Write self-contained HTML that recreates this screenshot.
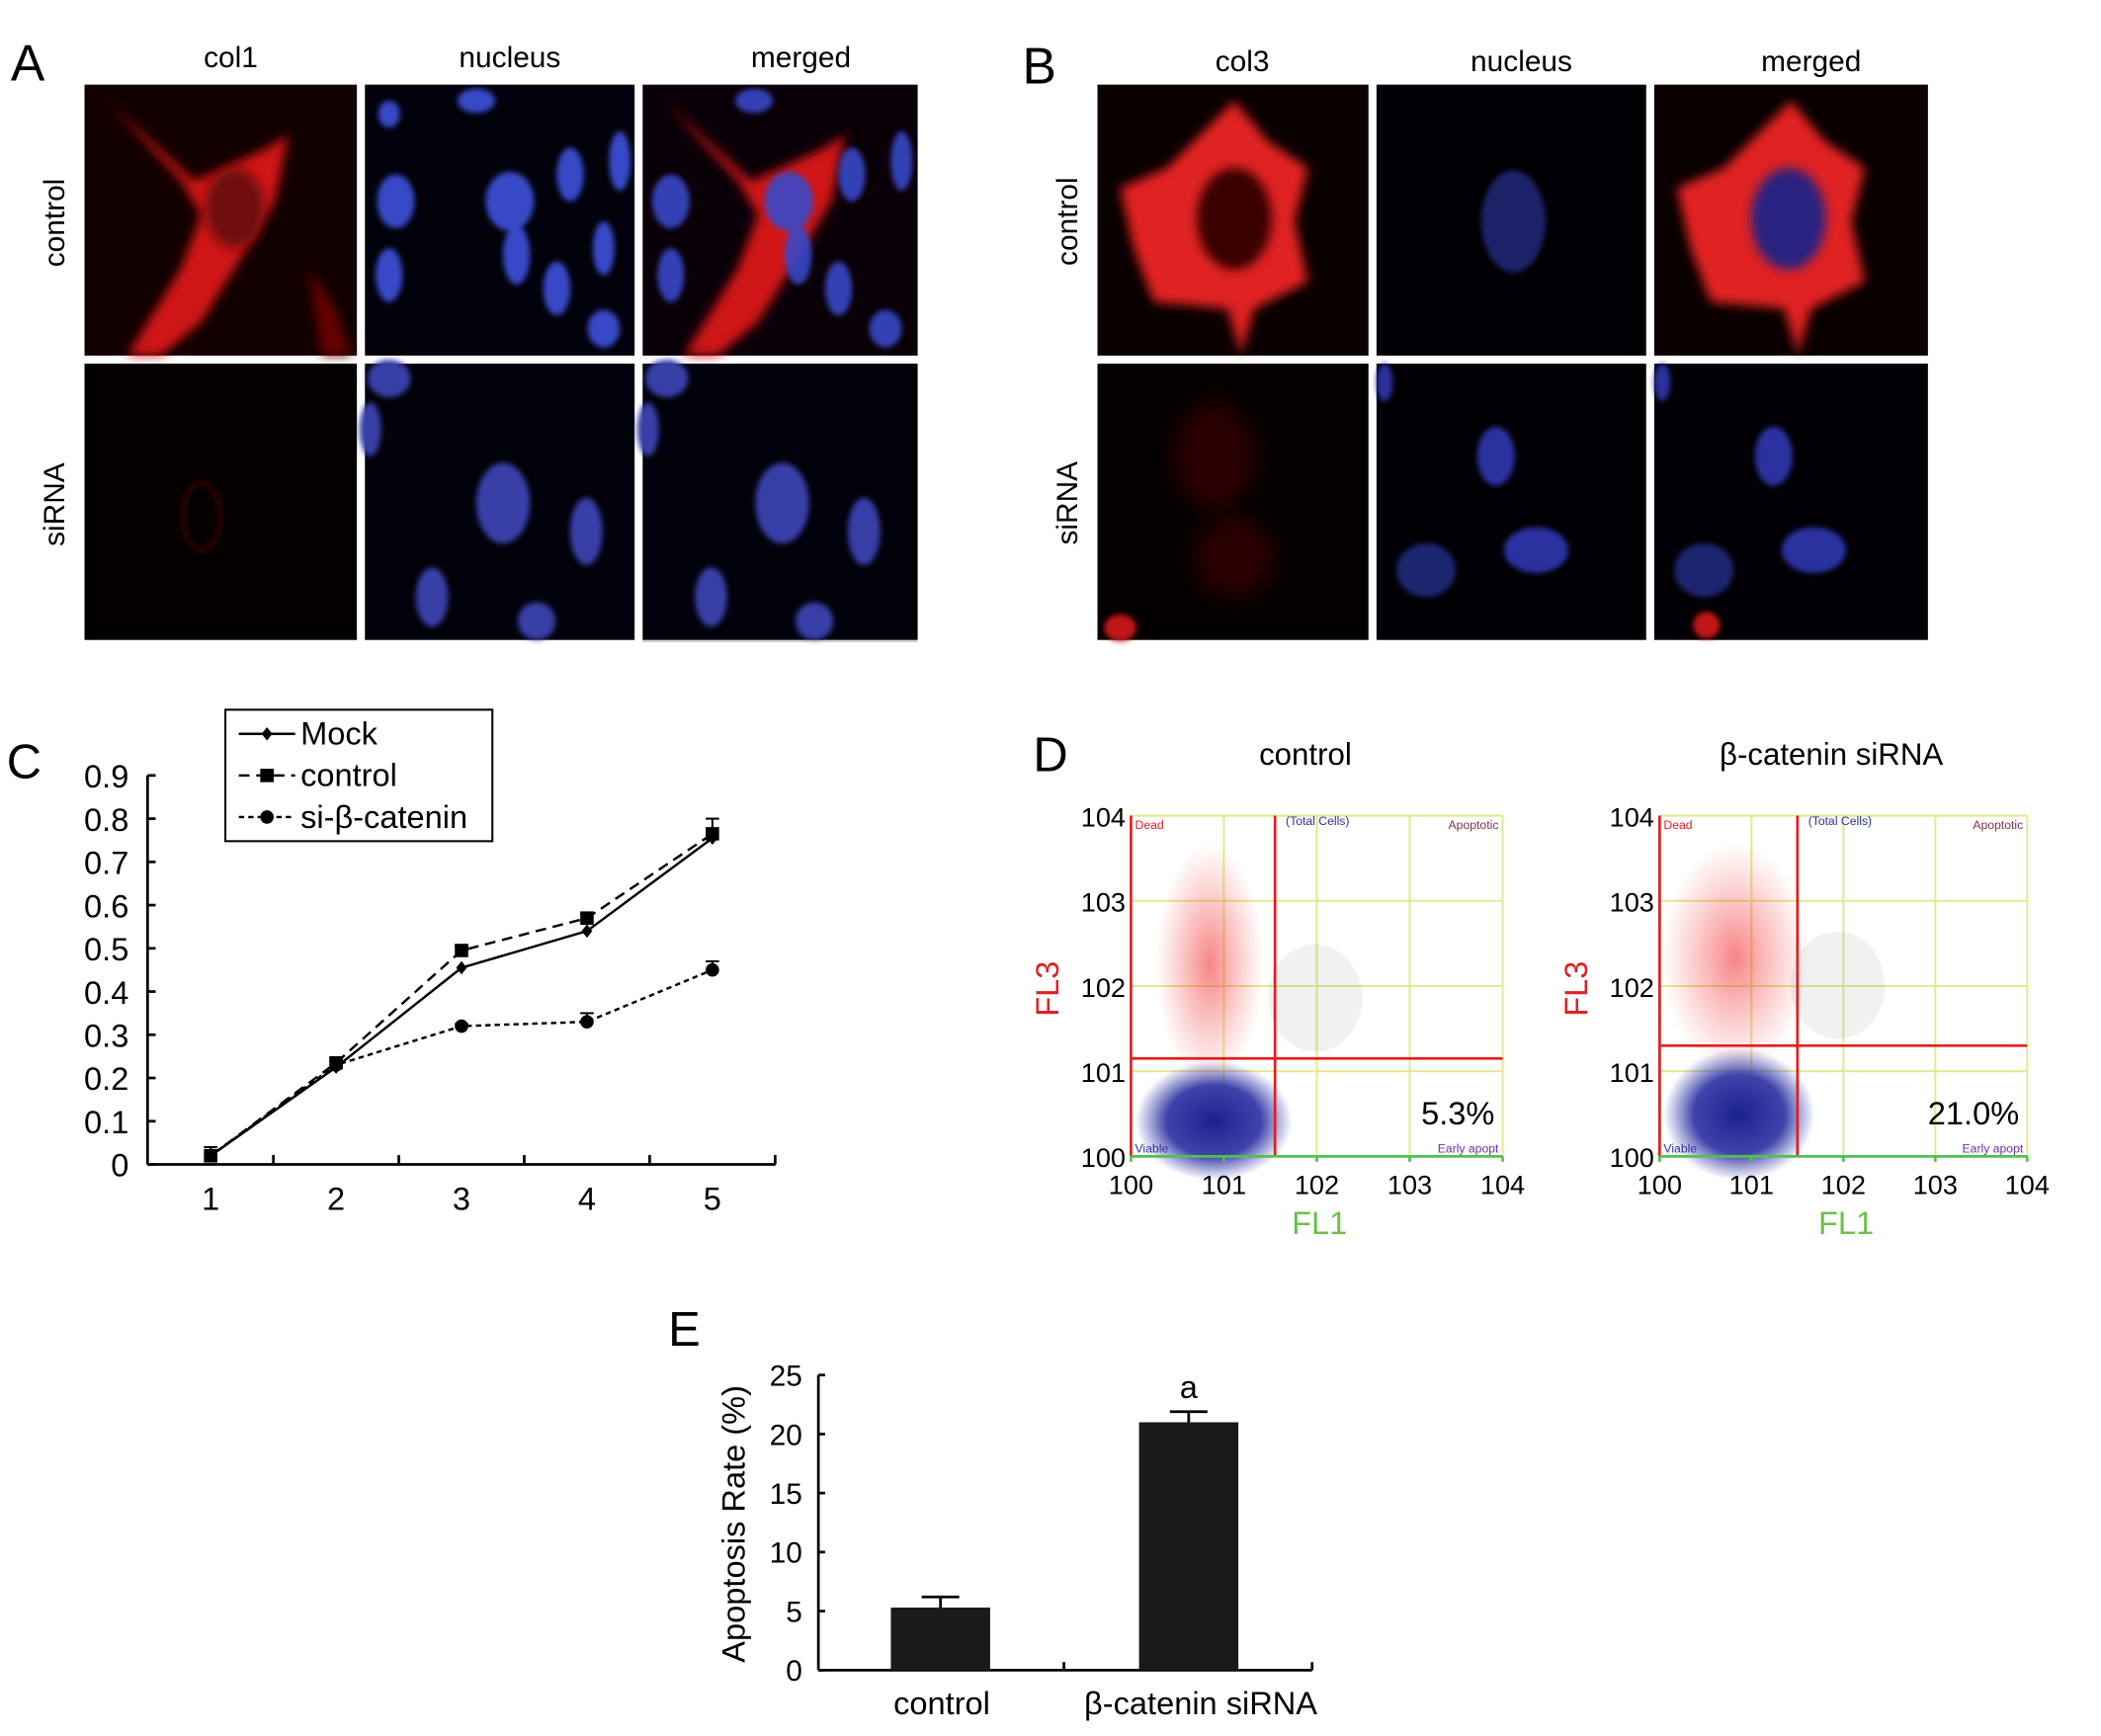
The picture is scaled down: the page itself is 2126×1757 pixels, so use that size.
<!DOCTYPE html>
<html><head><meta charset="utf-8">
<style>
html,body{margin:0;padding:0;background:#fff;}
svg{display:block;font-family:"Liberation Sans",sans-serif;}
</style></head>
<body>
<svg id="fig" width="2126" height="1757" viewBox="0 0 1566 1294" xmlns="http://www.w3.org/2000/svg">
<defs>
<filter id="b2" x="-30%" y="-30%" width="160%" height="160%"><feGaussianBlur stdDeviation="2"/></filter>
<filter id="b4" x="-30%" y="-30%" width="160%" height="160%"><feGaussianBlur stdDeviation="4"/></filter>
<filter id="b8" x="-50%" y="-50%" width="200%" height="200%"><feGaussianBlur stdDeviation="8"/></filter>
<radialGradient id="blueCloud"><stop offset="0" stop-color="#1a2090"/><stop offset="0.6" stop-color="#2a2fa0" stop-opacity="0.9"/><stop offset="1" stop-color="#3a40b0" stop-opacity="0"/></radialGradient>
<radialGradient id="redCloud"><stop offset="0" stop-color="#f02020" stop-opacity="0.55"/><stop offset="1" stop-color="#f04040" stop-opacity="0"/></radialGradient>
</defs>

<!-- Panel A -->
<g>
<text x="8" y="60" font-size="38">A</text>
<text x="172" y="50" font-size="22" text-anchor="middle">col1</text>
<text x="380" y="50" font-size="22" text-anchor="middle">nucleus</text>
<text x="597" y="50" font-size="22" text-anchor="middle">merged</text>
<text transform="translate(48,166) rotate(-90)" font-size="22" text-anchor="middle">control</text>
<text transform="translate(48,376) rotate(-90)" font-size="22" text-anchor="middle">siRNA</text>

<g>
<rect x="63" y="63" width="203" height="202" fill="#120000"/>
<path d="M80,75 L145,135 L200,110 L215,100 L205,150 L175,200 L150,240 L120,265 L95,265 L135,200 L150,160 L135,135 Z" fill="#d01818" filter="url(#b4)"/>
<ellipse cx="175" cy="155" rx="22" ry="30" fill="#701010" filter="url(#b4)"/>
<path d="M230,200 L250,230 L262,265 L240,265 Z" fill="#600" filter="url(#b4)"/>
</g>
<g>
<rect x="272" y="63" width="201" height="202" fill="#02020c"/>
<g fill="#3848c8" filter="url(#b2)">
<ellipse cx="355" cy="75" rx="14" ry="9"/><ellipse cx="290" cy="85" rx="8" ry="10"/>
<ellipse cx="295" cy="150" rx="14" ry="20"/><ellipse cx="380" cy="150" rx="18" ry="22"/>
<ellipse cx="425" cy="130" rx="10" ry="20"/><ellipse cx="462" cy="120" rx="8" ry="22"/>
<ellipse cx="290" cy="205" rx="10" ry="20"/><ellipse cx="385" cy="190" rx="10" ry="22"/>
<ellipse cx="415" cy="215" rx="10" ry="20"/><ellipse cx="450" cy="185" rx="8" ry="20"/>
<ellipse cx="450" cy="245" rx="12" ry="14"/>
</g></g>
<g>
<rect x="479" y="63" width="205" height="202" fill="#0a0008"/>
<path d="M495,75 L560,135 L615,110 L630,100 L620,150 L590,200 L565,240 L535,265 L510,265 L550,200 L565,160 L550,135 Z" fill="#d01818" filter="url(#b4)"/>
<g fill="#3848c8" filter="url(#b2)" opacity="0.9">
<ellipse cx="562" cy="75" rx="14" ry="9"/><ellipse cx="500" cy="150" rx="14" ry="20"/>
<ellipse cx="588" cy="150" rx="18" ry="22"/><ellipse cx="635" cy="130" rx="10" ry="20"/>
<ellipse cx="672" cy="120" rx="8" ry="22"/><ellipse cx="500" cy="205" rx="10" ry="20"/>
<ellipse cx="595" cy="190" rx="10" ry="22"/><ellipse cx="625" cy="215" rx="10" ry="20"/>
<ellipse cx="660" cy="245" rx="12" ry="14"/></g></g>

<g>
<rect x="63" y="271" width="203" height="206" fill="#050000"/>
<ellipse cx="150" cy="385" rx="14" ry="25" fill="none" stroke="#501010" stroke-width="2" filter="url(#b2)"/>
</g>
<g>
<rect x="272" y="271" width="201" height="206" fill="#02020c"/>
<g fill="#3840a8" filter="url(#b2)">
<ellipse cx="290" cy="282" rx="16" ry="14"/><ellipse cx="276" cy="320" rx="8" ry="20"/>
<ellipse cx="375" cy="375" rx="20" ry="30"/><ellipse cx="437" cy="396" rx="12" ry="25"/>
<ellipse cx="322" cy="445" rx="12" ry="22"/><ellipse cx="400" cy="463" rx="14" ry="14"/>
</g></g>
<g>
<rect x="479" y="271" width="205" height="206" fill="#02020c"/>
<g fill="#3840a8" filter="url(#b2)">
<ellipse cx="497" cy="282" rx="16" ry="14"/><ellipse cx="483" cy="320" rx="8" ry="20"/>
<ellipse cx="583" cy="375" rx="20" ry="30"/><ellipse cx="644" cy="396" rx="12" ry="25"/>
<ellipse cx="530" cy="445" rx="12" ry="22"/><ellipse cx="607" cy="463" rx="14" ry="14"/>
</g></g>
<line x1="479" y1="478" x2="684" y2="478" stroke="#bbb" stroke-width="1"/>
</g>

<!-- Panel B -->
<g>
<text x="762" y="62" font-size="38">B</text>
<text x="926" y="53" font-size="22" text-anchor="middle">col3</text>
<text x="1134" y="53" font-size="22" text-anchor="middle">nucleus</text>
<text x="1350" y="53" font-size="22" text-anchor="middle">merged</text>
<text transform="translate(803,165) rotate(-90)" font-size="22" text-anchor="middle">control</text>
<text transform="translate(803,375) rotate(-90)" font-size="22" text-anchor="middle">siRNA</text>

<g>
<rect x="818" y="63" width="202" height="202" fill="#0a0000"/>
<path d="M920,75 L945,105 L975,125 L965,165 L975,210 L935,230 L925,265 L915,230 L860,225 L845,185 L835,140 L870,125 Z" fill="#e02222" filter="url(#b4)"/>
<ellipse cx="920" cy="163" rx="28" ry="38" fill="#3a0505" filter="url(#b4)"/>
</g>
<g>
<rect x="1026" y="63" width="201" height="202" fill="#000004"/>
<ellipse cx="1128" cy="165" rx="24" ry="38" fill="#1e2268" filter="url(#b2)"/>
</g>
<g>
<rect x="1233" y="63" width="204" height="202" fill="#0a0000"/>
<path d="M1335,75 L1360,105 L1390,125 L1380,165 L1390,210 L1350,230 L1340,265 L1330,230 L1275,225 L1260,185 L1250,140 L1285,125 Z" fill="#e02222" filter="url(#b4)"/>
<ellipse cx="1333" cy="163" rx="28" ry="38" fill="#2a2080" filter="url(#b4)"/>
</g>
<g>
<rect x="818" y="271" width="202" height="206" fill="#050000"/>
<ellipse cx="905" cy="340" rx="30" ry="40" fill="#2a0505" filter="url(#b8)"/>
<ellipse cx="920" cy="415" rx="30" ry="30" fill="#2a0505" filter="url(#b8)"/>
<ellipse cx="835" cy="468" rx="12" ry="10" fill="#c01818" filter="url(#b2)"/>
</g>
<g>
<rect x="1026" y="271" width="201" height="206" fill="#000004"/>
<g fill="#2a33a0" filter="url(#b2)">
<ellipse cx="1115" cy="340" rx="14" ry="22"/><ellipse cx="1063" cy="425" rx="22" ry="20" fill="#1e2670"/>
<ellipse cx="1145" cy="410" rx="24" ry="17"/><ellipse cx="1032" cy="285" rx="6" ry="14"/>
</g></g>
<g>
<rect x="1233" y="271" width="204" height="206" fill="#020004"/>
<g fill="#2a33a0" filter="url(#b2)">
<ellipse cx="1322" cy="340" rx="14" ry="22"/><ellipse cx="1270" cy="425" rx="22" ry="20" fill="#1e2670"/>
<ellipse cx="1352" cy="410" rx="24" ry="17"/><ellipse cx="1239" cy="285" rx="6" ry="14"/>
</g>
<ellipse cx="1272" cy="466" rx="10" ry="10" fill="#c01818" filter="url(#b2)"/>
</g>
</g>

<!-- Panel C -->
<g id="panelC">
<text x="5" y="580" font-size="36">C</text>
</g>
<!-- Panel D -->
<g id="panelD">
<text x="770" y="575" font-size="36">D</text>
</g>
<!-- Panel E -->
<g id="panelE">
<text x="498" y="1003" font-size="36">E</text>
</g>
</svg>

<script>
// ---------- Panel C data ----------
const cDays = [1, 2, 3, 4, 5];
const cMock = [0.02, 0.225, 0.455, 0.54, 0.755];
const cControl = [0.02, 0.235, 0.495, 0.57, 0.765];
const cSi = [0.02, 0.23, 0.32, 0.33, 0.45];
const cControlErr = [0.02, 0.01, 0.01, 0.01, 0.035];
const cSiErr = [0.02, 0.01, 0.005, 0.02, 0.02];
const cYTicks = [0, 0.1, 0.2, 0.3, 0.4, 0.5, 0.6, 0.7, 0.8, 0.9];
const cYTickLabels = ["0", "0.1", "0.2", "0.3", "0.4", "0.5", "0.6", "0.7", "0.8", "0.9"];
const cXTickLabels = ["1", "2", "3", "4", "5"];
const cLegendLabels = ["Mock", "control", "si-β-catenin"];

// ---------- Panel D data ----------
const dTickLabels = ["100", "101", "102", "103", "104"];
const dTitles = ["control", "β-catenin siRNA"];
const dPercent = ["5.3%", "21.0%"];
const dGateX = [1.55, 1.5];
const dGateY = [1.15, 1.3];

// ---------- Panel E data ----------
const eCategories = ["control", "β-catenin siRNA"];
const eValues = [5.3, 21.0];
const eErrors = [0.9, 0.9];
const eYTicks = [0, 5, 10, 15, 20, 25];
const eYTickLabels = ["0", "5", "10", "15", "20", "25"];

const NS = "http://www.w3.org/2000/svg";
function mk(tag, attrs, parent) {
  const e = document.createElementNS(NS, tag);
  for (const k in attrs) e.setAttribute(k, attrs[k]);
  parent.appendChild(e);
  return e;
}

// ===== Panel C =====
(function () {
  const g = document.getElementById('panelC');
  const x0 = 110, x1 = 578, yb = 868, yt = 578;
  const sx = d => 157 + (d - 1) * 93.5;
  const sy = v => yb - (v / 0.9) * (yb - yt);
  let e = mk('line', { x1: x0, y1: yt, x2: x0, y2: yb, stroke: '#000', 'stroke-width': 2 }, g);
  
  
  e = mk('line', { x1: x0, y1: yb, x2: x1, y2: yb, stroke: '#000', 'stroke-width': 2 }, g);
  
  
  cYTicks.forEach((t, i) => {
    const y = sy(t);
    mk('line', { x1: x0, y1: y, x2: x0 + 6, y2: y, stroke: '#000', 'stroke-width': 2 }, g);
    const tx = mk('text', { x: x0 - 14, y: y + 9, 'font-size': 24, 'text-anchor': 'end' }, g);
    tx.textContent = cYTickLabels[i];
    
    
  });
  for (let i = 0; i < cDays.length; i++) {
    const xm = sx(cDays[i]) + 46.75;
    mk('line', { x1: xm, y1: yb, x2: xm, y2: yb - 7, stroke: '#000', 'stroke-width': 2 }, g);
    const tx = mk('text', { x: sx(cDays[i]), y: yb + 34, 'font-size': 24, 'text-anchor': 'middle' }, g);
    tx.textContent = cXTickLabels[i];
    
    
  }
  function series(vals, errs, dash, marker, name) {
    const pts = vals.map((v, i) => sx(cDays[i]) + ',' + sy(v)).join(' ');
    const pl = mk('polyline', { points: pts, fill: 'none', stroke: '#000', 'stroke-width': 1.8, 'stroke-dasharray': dash }, g);
    
    
    vals.forEach((v, i) => {
      const x = sx(cDays[i]), y = sy(v);
      if (errs) {
        const ye = sy(v + errs[i]);
        mk('line', { x1: x, y1: y, x2: x, y2: ye, stroke: '#000', 'stroke-width': 1.5 }, g);
        mk('line', { x1: x - 5, y1: ye, x2: x + 5, y2: ye, stroke: '#000', 'stroke-width': 1.5 }, g);
      }
      let m;
      if (marker === 'diamond') m = mk('path', { d: `M${x},${y - 5}L${x + 4},${y}L${x},${y + 5}L${x - 4},${y}Z`, fill: '#000' }, g);
      else if (marker === 'square') m = mk('rect', { x: x - 5, y: y - 5, width: 10, height: 10, fill: '#000' }, g);
      else m = mk('circle', { cx: x, cy: y, r: 5, fill: '#000' }, g);
      
      
    });
  }
  series(cMock, null, 'none', 'diamond', 'mock');
  series(cControl, cControlErr, '8,5', 'square', 'control');
  series(cSi, cSiErr, '4,3', 'circle', 'si-beta-catenin');
  const lg = mk('g', {}, g);
  
  
  mk('rect', { x: 168, y: 529, width: 199, height: 98, fill: '#fff', stroke: '#000', 'stroke-width': 1.5 }, lg);
  const dashes = ['none', '8,5', '4,3'];
  const marks = ['diamond', 'square', 'circle'];
  cLegendLabels.forEach((lab, i) => {
    const y = 547 + i * 31;
    mk('line', { x1: 178, y1: y, x2: 220, y2: y, stroke: '#000', 'stroke-width': 1.8, 'stroke-dasharray': dashes[i] }, lg);
    const x = 199;
    if (marks[i] === 'diamond') mk('path', { d: `M${x},${y - 5}L${x + 4},${y}L${x},${y + 5}L${x - 4},${y}Z`, fill: '#000' }, lg);
    else if (marks[i] === 'square') mk('rect', { x: x - 5, y: y - 5, width: 10, height: 10, fill: '#000' }, lg);
    else mk('circle', { cx: x, cy: y, r: 5, fill: '#000' }, lg);
    const t = mk('text', { x: 224, y: y + 8, 'font-size': 24 }, lg);
    t.textContent = lab;
    
    
  });
})();

// ===== Panel D =====
(function () {
  const g = document.getElementById('panelD');
  const plots = [{ x0: 843, x1: 1120, titleX: 973 }, { x0: 1237, x1: 1511, titleX: 1365 }];
  const yt = 608, yb = 862;
  plots.forEach((p, k) => {
    const pg = mk('g', {}, g);
    
    
    const sx = d => p.x0 + d / 4 * (p.x1 - p.x0);
    const sy = d => yb - d / 4 * (yb - yt);
    const t = mk('text', { x: p.titleX, y: 570, 'font-size': 23, 'text-anchor': 'middle' }, pg);
    t.textContent = dTitles[k];
    
    
    for (let d = 0; d <= 4; d++) {
      mk('line', { x1: sx(d), y1: yt, x2: sx(d), y2: yb, stroke: '#e4e890', 'stroke-width': 1.5 }, pg);
      mk('line', { x1: p.x0, y1: sy(d), x2: p.x1, y2: sy(d), stroke: '#e4e890', 'stroke-width': 1.5 }, pg);
    }
    const gx = sx(dGateX[k]), gy = sy(dGateY[k]);
    const cl = mk('g', {}, pg);
    
    
    const rw = k === 0 ? 40 : 55;
    mk('ellipse', { cx: (p.x0 + gx) / 2 + 8, cy: (gy + yb) / 2 + 10, rx: (gx - p.x0) / 2 + 5, ry: (yb - gy) / 2 + 8, fill: 'url(#blueCloud)' }, cl);
    mk('ellipse', { cx: (p.x0 + gx) / 2 + 5, cy: (yt + gy) / 2 + 20, rx: rw, ry: (gy - yt) / 2, fill: 'url(#redCloud)' }, cl);
    mk('ellipse', { cx: gx + 30, cy: gy - 45, rx: 35, ry: 40, fill: '#888', opacity: 0.12 }, cl);
    mk('line', { x1: gx, y1: yt, x2: gx, y2: yb, stroke: '#e02020', 'stroke-width': 2 }, pg);
    mk('line', { x1: p.x0, y1: gy, x2: p.x1, y2: gy, stroke: '#e02020', 'stroke-width': 2 }, pg);
    mk('line', { x1: p.x0, y1: yt, x2: p.x0, y2: yb, stroke: '#e02020', 'stroke-width': 2 }, pg);
    mk('line', { x1: p.x0, y1: yb, x2: p.x1, y2: yb, stroke: '#50c050', 'stroke-width': 2 }, pg);
    [['Dead', p.x0 + 3, yt + 10, '#e02020', 'start'], ['(Total Cells)', gx + 8, yt + 7, '#3030a0', 'start'],
     ['Apoptotic', p.x1 - 3, yt + 10, '#803050', 'end'], ['Early apopt', p.x1 - 3, yb - 3, '#7030a0', 'end'],
     ['Viable', p.x0 + 3, yb - 3, '#3030a0', 'start']].forEach(q => {
      const tq = mk('text', { x: q[1], y: q[2], 'font-size': 9, fill: q[3], 'text-anchor': q[4] }, pg);
      tq.textContent = q[0];
    });
    const pc = mk('text', { x: p.x1 - 6, y: 838, 'font-size': 24, 'text-anchor': 'end' }, pg);
    pc.textContent = dPercent[k];
    
    
    dTickLabels.forEach((lab, i) => {
      const ty = mk('text', { x: p.x0 - 4, y: sy(i) + 8, 'font-size': 20, 'text-anchor': 'end' }, pg);
      ty.textContent = lab;
      
      
      const tx = mk('text', { x: sx(i), y: yb + 28, 'font-size': 20, 'text-anchor': 'middle' }, pg);
      tx.textContent = lab;
      
      
      mk('line', { x1: sx(i), y1: yb, x2: sx(i), y2: yb + 4, stroke: '#50c050', 'stroke-width': 2 }, pg);
    });
    const fl1 = mk('text', { x: (p.x0 + p.x1) / 2 + 2, y: 920, 'font-size': 24, fill: '#6cc04a', 'text-anchor': 'middle' }, pg);
    fl1.textContent = 'FL1';
    
    
    const fl3 = mk('text', { transform: `translate(${p.x0 - 54},737) rotate(-90)`, 'font-size': 24, fill: '#e02020', 'text-anchor': 'middle' }, pg);
    fl3.textContent = 'FL3';
    
    
  });
})();

// ===== Panel E =====
(function () {
  const g = document.getElementById('panelE');
  const x0 = 610, x1 = 978, yb = 1245, yt = 1025;
  const sy = v => yb - v / 25 * (yb - yt);
  const barX = [664, 849], bw = 74;
  let e = mk('line', { x1: x0, y1: yt, x2: x0, y2: yb, stroke: '#000', 'stroke-width': 2 }, g);
  
  
  e = mk('line', { x1: x0, y1: yb, x2: x1, y2: yb, stroke: '#000', 'stroke-width': 2 }, g);
  
  
  mk('line', { x1: 793, y1: yb, x2: 793, y2: yb - 6, stroke: '#000', 'stroke-width': 2 }, g);
  mk('line', { x1: x1, y1: yb, x2: x1, y2: yb - 6, stroke: '#000', 'stroke-width': 2 }, g);
  eYTicks.forEach((t, i) => {
    const y = sy(t);
    mk('line', { x1: x0, y1: y, x2: x0 + 5, y2: y, stroke: '#000', 'stroke-width': 2 }, g);
    const tx = mk('text', { x: x0 - 12, y: y + 8, 'font-size': 22, 'text-anchor': 'end' }, g);
    tx.textContent = eYTickLabels[i];
    
    
  });
  eValues.forEach((v, i) => {
    const top = sy(v), cx = barX[i] + bw / 2, ye = sy(v + eErrors[i]);
    mk('line', { x1: cx, y1: top, x2: cx, y2: ye, stroke: '#000', 'stroke-width': 2 }, g);
    mk('line', { x1: cx - 14, y1: ye, x2: cx + 14, y2: ye, stroke: '#000', 'stroke-width': 2 }, g);
    const r = mk('rect', { x: barX[i], y: top, width: bw, height: yb - top, fill: '#1a1a1a' }, g);
    
    
    const lab = mk('text', { x: cx + (i === 0 ? 1 : 9), y: 1278, 'font-size': 24, 'text-anchor': 'middle' }, g);
    lab.textContent = eCategories[i];
    
    
  });
  const a = mk('text', { x: barX[1] + bw / 2, y: sy(eValues[1] + eErrors[1]) - 10, 'font-size': 24, 'text-anchor': 'middle' }, g);
  a.textContent = 'a';
  
  
  const yt2 = mk('text', { transform: 'translate(555,1136) rotate(-90)', 'font-size': 24, 'text-anchor': 'middle' }, g);
  yt2.textContent = 'Apoptosis Rate (%)';
  
  
})();
</script>
</body></html>
